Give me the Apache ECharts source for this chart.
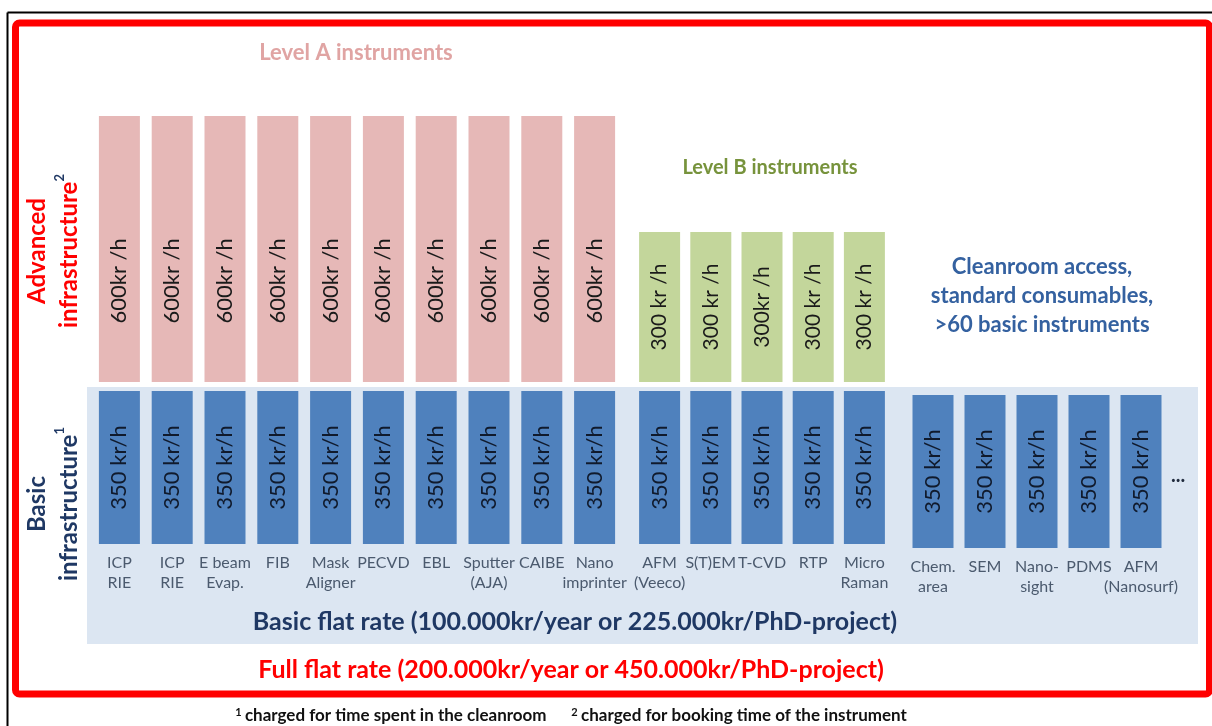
<!DOCTYPE html>
<html>
<head>
<meta charset="utf-8">
<script src="https://cdn.jsdelivr.net/npm/echarts@6/dist/echarts.min.js"></script>
<style>
  html, body { margin: 0; padding: 0; background: #fff; }
  #chart { width: 1212px; height: 726px; }
</style>
</head>
<body>
<div id="chart"></div>
<script>
// instruments (x categories), one list per block
const levelAInstruments = ['ICP\nRIE', 'ICP\nRIE', 'E beam\nEvap.', 'FIB', 'Mask\nAligner', 'PECVD', 'EBL', 'Sputter\n(AJA)', 'CAIBE', 'Nano\nimprinter'];
const levelBInstruments = ['AFM\n(Veeco)', 'S(T)EM', 'T-CVD', 'RTP', 'Micro\nRaman'];
const basicInstruments = ['Chem.\narea', 'SEM', 'Nano-\nsight', 'PDMS', 'AFM\n(Nanosurf)'];

// hourly rates (kr/h)
const levelARates = [600, 600, 600, 600, 600, 600, 600, 600, 600, 600];
const levelBRates = [300, 300, 300, 300, 300];
const basicRatesA = [350, 350, 350, 350, 350, 350, 350, 350, 350, 350];
const basicRatesB = [350, 350, 350, 350, 350];
const basicRatesC = [350, 350, 350, 350, 350];

// text written on the bars
const levelALabels = ['600kr /h', '600kr /h', '600kr /h', '600kr /h', '600kr /h', '600kr /h', '600kr /h', '600kr /h', '600kr /h', '600kr /h'];
const levelBLabels = ['300 kr /h', '300 kr /h', '300kr /h', '300 kr /h', '300 kr /h'];
const basicLabel = '350 kr/h';

const FONT = 'Lato, "Open Sans", sans-serif';
const PINK = '#e6b8b7', GREEN = '#c3d69b', BLUE = '#4f81bd';

const chart = echarts.init(document.getElementById('chart'), null, {renderer: 'canvas'});

function grid(left, width, top, height) {
    return {left: left, width: width, top: top, height: height, containLabel: false, outerBoundsMode: 'none', show: false};
}

function xCat(idx, cats, showLabels) {
    return {
        type: 'category', gridIndex: idx, data: cats,
        axisLine: {show: false}, axisTick: {show: false}, splitLine: {show: false},
        axisLabel: {
            show: showLabels, interval: 0, margin: 9, color: '#4b5a6e',
            fontFamily: FONT, fontSize: 16, lineHeight: 20
        }
    };
}

function yVal(idx, max) {
    return {type: 'value', gridIndex: idx, min: 0, max: max, show: false, splitLine: {show: false}};
}

function bars(idx, data, color, labels, labelColor, pos, size) {
    return {
        type: 'bar', xAxisIndex: idx, yAxisIndex: idx, data: data,
        barWidth: 41, silent: true,
        itemStyle: {color: color},
        label: {
            show: true, rotate: 90, position: pos, align: 'center', verticalAlign: 'middle',
            fontFamily: FONT, fontSize: size, color: labelColor,
            formatter: p => Array.isArray(labels) ? labels[p.dataIndex] : labels
        }
    };
}

const superStyle = {font: 'bold 13px ' + FONT, fill: '#1f3864', verticalAlign: 'top', padding: [0, 0, 12, 0]};

chart.setOption({
    backgroundColor: '#fff',
    animation: false,
    grid: [
        grid(93, 528, 391, 153),
        grid(634, 256, 391, 153),
        grid(907, 260, 395, 153),
        grid(93, 528, 116, 266),
        grid(634, 256, 232, 150)
    ],
    xAxis: [
        xCat(0, levelAInstruments, true),
        xCat(1, levelBInstruments, true),
        xCat(2, basicInstruments, true),
        xCat(3, levelAInstruments, false),
        xCat(4, levelBInstruments, false)
    ],
    yAxis: [yVal(0, 350), yVal(1, 350), yVal(2, 350), yVal(3, 600), yVal(4, 300)],
    series: [
        bars(0, basicRatesA, BLUE, basicLabel, '#101a2c', 'inside', 22),
        bars(1, basicRatesB, BLUE, basicLabel, '#101a2c', 'inside', 22),
        bars(2, basicRatesC, BLUE, basicLabel, '#101a2c', 'inside', 22),
        bars(3, levelARates, PINK, levelALabels, '#1a1a1a', ['50%', '62%'], 22),
        bars(4, levelBRates, GREEN, levelBLabels, '#1a1a1a', 'inside', 21)
    ],
    graphic: [
        // outer frame lines
        {type: 'line', z: -10, shape: {x1: 7.5, y1: 12.5, x2: 7.5, y2: 726}, style: {stroke: '#000', lineWidth: 2}},
        {type: 'line', z: -10, shape: {x1: 7.5, y1: 12.5, x2: 1212, y2: 12.5}, style: {stroke: '#000', lineWidth: 2}},
        {type: 'rect', z: -10, shape: {x: 15.5, y: 23, width: 1194, height: 671, r: 4}, style: {fill: 'none', stroke: '#ff0000', lineWidth: 7}},
        // basic infrastructure panel
        {type: 'rect', z: -5, shape: {x: 87, y: 387, width: 1111, height: 257}, style: {fill: '#dce6f2'}},
        {type: 'text', x: 356, y: 53, style: {text: 'Level A instruments', fill: '#e0a4a3', font: 'bold 22px ' + FONT, textAlign: 'center', textVerticalAlign: 'middle'}},
        {type: 'text', x: 770, y: 168, style: {text: 'Level B instruments', fill: '#77933c', font: 'bold 20px ' + FONT, textAlign: 'center', textVerticalAlign: 'middle'}},
        {type: 'text', x: 1042, y: 296, style: {text: 'Cleanroom access,\nstandard consumables,\n>60 basic instruments', fill: '#3461a0', font: 'bold 22px ' + FONT, lineHeight: 29, textAlign: 'center', textVerticalAlign: 'middle'}},
        {type: 'text', x: 1178, y: 476, style: {text: '...', fill: '#1f2a3c', font: 'bold 20px ' + FONT, textAlign: 'center', textVerticalAlign: 'middle'}},
        {type: 'text', x: 575, y: 622, style: {text: 'Basic flat rate (100.000kr/year or 225.000kr/PhD-project)', fill: '#1f3864', font: 'bold 25px ' + FONT, textAlign: 'center', textVerticalAlign: 'middle'}},
        {type: 'text', x: 571, y: 670, style: {text: 'Full flat rate (200.000kr/year or 450.000kr/PhD-project)', fill: '#ff0000', font: 'bold 25px ' + FONT, textAlign: 'center', textVerticalAlign: 'middle'}},
        {type: 'text', x: 571, y: 716, style: {
            text: '{s|1} {t|charged for time spent in the cleanroom      }{s|2} {t|charged for booking time of the instrument}',
            textAlign: 'center', textVerticalAlign: 'middle',
            rich: {
                t: {font: 'bold 17px ' + FONT, fill: '#111'},
                s: {font: 'bold 11px ' + FONT, fill: '#111', verticalAlign: 'top', padding: [0, 0, 8, 0]}
            }
        }},
        {type: 'text', x: 53, y: 251, rotation: Math.PI / 2, style: {
            text: '{a|Advanced}\n{a|infrastructure}{s|2}',
            textAlign: 'center', textVerticalAlign: 'middle',
            rich: {
                a: {font: 'bold 24px ' + FONT, fill: '#ff0000', lineHeight: 32},
                s: superStyle
            }
        }},
        {type: 'text', x: 53, y: 504, rotation: Math.PI / 2, style: {
            text: '{a|Basic}\n{a|infrastructure}{s|1}',
            textAlign: 'center', textVerticalAlign: 'middle',
            rich: {
                a: {font: 'bold 24px ' + FONT, fill: '#1f3864', lineHeight: 32},
                s: superStyle
            }
        }}
    ]
});
</script>
</body>
</html>
